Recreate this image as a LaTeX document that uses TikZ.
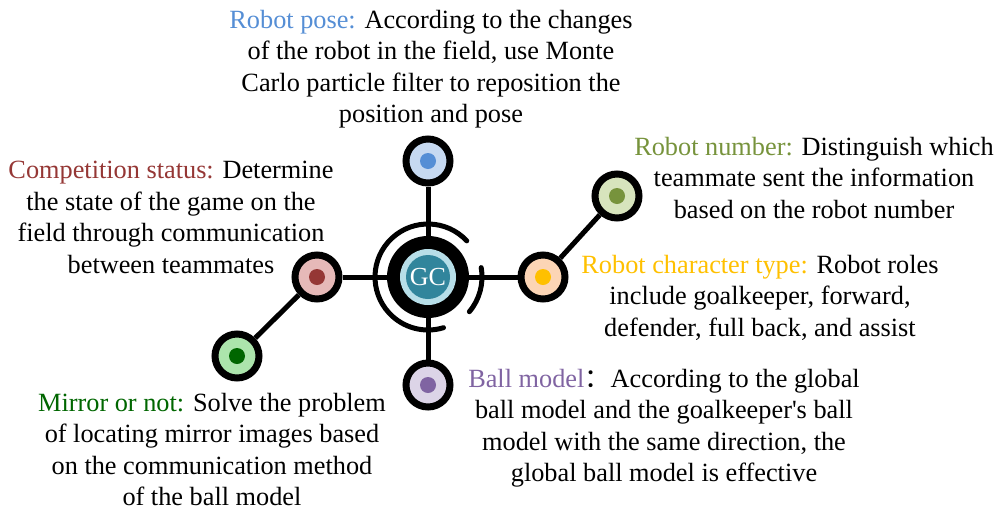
\documentclass[tikz,border=0pt]{standalone}
\usepackage{fontspec}
\setmainfont{Liberation Serif}
\newfontfamily\cjk{Noto Sans CJK SC}
\usetikzlibrary{backgrounds}

\definecolor{posecol}{HTML}{558ED5}
\definecolor{posefill}{HTML}{C6D9F1}
\definecolor{compcol}{HTML}{953735}
\definecolor{compfill}{HTML}{E6B9B8}
\definecolor{mirrorcol}{HTML}{006600}
\definecolor{mirrorfill}{HTML}{ACE5AC}
\definecolor{rolecol}{HTML}{FFC000}
\definecolor{rolefill}{HTML}{FCD5B5}
\definecolor{numcol}{HTML}{77933C}
\definecolor{numfill}{HTML}{D7E4BD}
\definecolor{ballcol}{HTML}{8064A2}
\definecolor{ballfill}{HTML}{DCD4E7}
\definecolor{gcteal}{HTML}{31859C}
\definecolor{gclight}{HTML}{B7DEE8}

\begin{document}
\begin{tikzpicture}[x=1pt, y=-1pt,
    spot/.style={circle, draw=black, line width=7pt, minimum size=44pt, inner sep=0pt},
    dot/.style={circle, minimum size=16pt, inner sep=0pt},
    txt/.style={align=center, anchor=north, inner sep=0pt, font=\fontsize{26.3}{31.5}\selectfont},
    link/.style={line width=5pt}]
    \useasboundingbox (0,0) rectangle (999,512);

    % central GC hub
    \node[circle, fill=black, minimum size=82pt, inner sep=0pt] (hub) at (428,277) {};
    \node[circle, fill=gclight, minimum size=56pt, inner sep=0pt] (hubring) at (hub) {};
    \node[circle, fill=gcteal, minimum size=44pt, inner sep=0pt, text=white,
        font=\fontsize{26}{26}\selectfont] (gc) at (hub) {GC};
    \draw[link, line cap=round] (hub.center) ++(-43:53) arc[start angle=-43, end angle=-287, radius=53];
    \draw[link, line cap=round] (hub.center) ++(-10:54) arc[start angle=-10, end angle=40, radius=54];

    % the six satellites
    \node[spot, fill=posefill] (pose) at (428,161) {};
    \node[dot, fill=posecol] (posedot) at (pose) {};
    \node[spot, fill=compfill] (comp) at (317,277) {};
    \node[dot, fill=compcol] (compdot) at (comp) {};
    \node[spot, fill=mirrorfill] (mirror) at (237,356) {};
    \node[dot, fill=mirrorcol] (mirrordot) at (mirror) {};
    \node[spot, fill=rolefill] (role) at (543,277) {};
    \node[dot, fill=rolecol] (roledot) at (role) {};
    \node[spot, fill=numfill] (num) at (617,196) {};
    \node[dot, fill=numcol] (numdot) at (num) {};
    \node[spot, fill=ballfill] (ball) at (428,385) {};
    \node[dot, fill=ballcol] (balldot) at (ball) {};

    % spokes behind everything
    \begin{scope}[on background layer]
        \draw[link] (pose) -- (ball);
        \draw[link] (comp) -- (role);
        \draw[link] (comp) -- (mirror);
        \draw[link] (role) -- (num);
    \end{scope}

    % descriptions
    \node[txt] (posetxt) at (431,10) {\textcolor{posecol}{Robot pose:} According to the changes\\
        of the robot in the field, use Monte\\
        Carlo particle filter to reposition the\\
        position and pose};
    \node[txt] (comptxt) at (171,161) {\textcolor{compcol}{Competition status:} Determine\\
        the state of the game on the\\
        field through communication\\
        between teammates};
    \node[txt] (numtxt) at (814,137) {\textcolor{numcol}{Robot number:} Distinguish which\\
        teammate sent the information\\
        based on the robot number};
    \node[txt] (roletxt) at (760,255) {\textcolor{rolecol}{Robot character type:} Robot roles\\
        include goalkeeper, forward,\\
        defender, full back, and assist};
    \node[txt] (balltxt) at (664,369) {\textcolor{ballcol}{Ball model}{\cjk ：}According to the global\\
        ball model and the goalkeeper\textquotesingle s ball\\
        model with the same direction, the\\
        global ball model is effective};
    \node[txt] (mirrortxt) at (212,393) {\textcolor{mirrorcol}{Mirror or not:} Solve the problem\\
        of locating mirror images based\\
        on the communication method\\
        of the ball model};
\end{tikzpicture}
\end{document}
